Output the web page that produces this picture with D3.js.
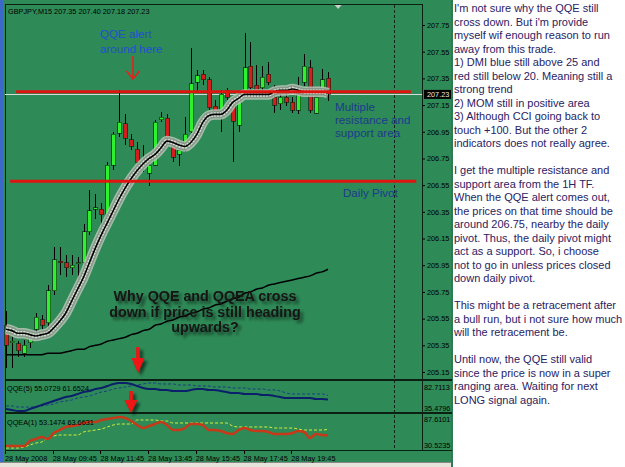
<!DOCTYPE html>
<html><head><meta charset="utf-8">
<script src="https://cdn.jsdelivr.net/npm/d3@7"></script>
<style>
html,body{margin:0;padding:0;background:#fff;}
svg{display:block;}
</style></head>
<body>
<svg id="c" width="625" height="467"></svg>
<script>
// ---------------- DATA ----------------
const titleText = "GBPJPY,M15  207.35 207.40 207.18 207.23";
const openP  = [205.50,205.37,205.36,205.29,205.37,205.47,205.54,205.52,205.76,205.98,
                205.97,205.93,205.96,205.97,206.20,206.37,206.37,206.33,206.70,206.94,
                207.01,206.89,206.82,206.71,206.64,206.70,207.04,207.05,206.87,206.78,
                206.81,206.95,207.32,207.38,207.34,207.14,207.11,207.26,207.15,207.00,
                207.21,207.44,207.30,207.28,207.38,207.21,207.16,207.21,207.17,207.11,
                207.32,207.43,207.09,207.26,207.35];
const highP  = [205.61,205.41,205.38,205.39,205.44,205.59,205.58,205.80,206.09,206.09,
                206.03,206.03,206.01,206.26,206.51,206.48,206.42,206.72,206.95,207.26,
                207.08,206.93,206.87,206.85,206.78,207.04,207.10,207.08,206.90,206.85,
                207.06,207.58,207.41,207.41,207.36,207.19,207.26,207.28,207.20,207.23,
                207.69,207.62,207.45,207.44,207.47,207.30,207.24,207.26,207.21,207.36,
                207.53,207.49,207.24,207.42,207.40];
const lowP   = [205.18,205.18,205.26,205.26,205.33,205.43,205.45,205.48,205.73,205.88,
                205.86,205.88,205.80,205.95,206.18,206.30,206.25,206.24,206.66,206.91,
                206.85,206.81,206.70,206.65,206.54,206.69,207.02,206.85,206.72,206.69,
                206.80,206.94,207.24,207.30,207.11,207.09,206.95,207.19,206.72,206.95,
                207.20,207.26,207.24,207.26,207.30,207.09,207.11,207.14,207.09,207.08,
                207.29,207.09,207.08,207.23,207.18];
const closeP = [205.35,205.38,205.31,205.35,205.41,205.56,205.50,205.76,205.99,205.97,
                205.93,205.95,205.97,206.20,206.36,206.38,206.33,206.70,206.93,207.02,
                206.90,206.84,206.72,206.73,206.70,207.02,207.06,206.89,206.76,206.81,
                206.93,207.31,207.37,207.34,207.13,207.10,207.23,207.21,207.03,207.19,
                207.43,207.28,207.26,207.36,207.32,207.15,207.21,207.17,207.11,207.26,
                207.44,207.11,207.21,207.34,207.23];
const fastMA = [205.47,205.46,205.44,205.44,205.43,205.42,205.43,205.44,205.48,205.53,
                205.59,205.68,205.77,205.86,205.97,206.08,206.18,206.27,206.36,206.45,
                206.53,206.60,206.66,206.71,206.75,206.78,206.83,206.88,206.87,206.85,
                206.84,206.87,206.93,207.02,207.07,207.08,207.08,207.11,207.17,207.20,
                207.23,207.23,207.23,207.23,207.23,207.25,207.26,207.26,207.27,207.26,
                207.25,207.25,207.25,207.25,207.24];
const slowMA = [205.28,205.28,205.28,205.28,205.28,205.28,205.28,205.29,205.29,205.29,
                205.30,205.31,205.32,205.32,205.34,205.35,205.36,205.38,205.39,205.40,
                205.41,205.43,205.44,205.46,205.47,205.50,205.51,205.53,205.54,205.56,
                205.57,205.59,205.60,205.62,205.63,205.65,205.66,205.68,205.70,205.71,
                205.74,205.75,205.77,205.78,205.80,205.81,205.82,205.83,205.84,205.85,
                205.86,205.87,205.89,205.90,205.92];
const qqeMain = [38.9,37.2,35.5,35.5,38.9,42.2,45.6,49.0,52.4,55.7,
                 59.1,60.8,64.2,67.5,69.2,72.6,74.3,77.7,81.0,82.7,
                 82.7,81.0,77.7,74.3,72.6,72.6,70.9,70.9,69.2,69.2,
                 69.2,70.9,72.6,72.6,70.9,70.9,69.2,67.5,65.8,65.8,
                 64.2,64.2,64.2,62.5,62.5,60.8,59.1,57.4,57.4,57.4,
                 57.4,57.4,55.7,55.7,55.07];
const qqeSignal = [44.0,44.0,42.2,42.2,42.2,42.2,44.0,45.6,47.3,50.7,
                   52.4,54.0,57.4,59.1,60.8,64.2,67.5,69.2,72.6,74.3,
                   76.0,77.7,79.3,81.0,82.7,82.7,81.0,81.0,81.0,79.3,
                   79.3,79.3,77.7,77.7,77.7,76.0,76.0,76.0,74.3,74.3,
                   74.3,72.6,72.6,72.6,70.9,70.9,69.2,65.8,64.2,64.2,
                   64.2,64.2,64.2,64.2,61.65];
const qqeaMain = [34.1,34.1,34.1,34.1,43.0,46.6,50.1,46.6,57.3,62.6,
                  68.0,69.8,71.6,75.1,76.9,76.9,80.5,82.3,84.0,85.8,
                  84.0,78.7,71.6,66.2,69.8,73.3,76.9,71.6,62.6,62.6,
                  66.2,73.3,73.3,71.6,62.6,62.6,60.9,57.3,55.5,62.6,
                  66.2,62.6,60.9,60.9,59.1,55.5,55.5,55.5,57.3,60.9,
                  59.1,48.4,55.5,53.7,53.15];
const qqeaSignal = [30.5,30.5,30.5,32.3,35.9,39.4,41.2,48.4,51.9,53.7,
                    53.7,53.7,53.7,59.1,60.9,62.6,64.4,68.0,71.6,73.3,
                    73.3,73.3,80.5,80.5,80.5,80.5,78.7,78.7,75.1,75.1,
                    75.1,75.1,75.1,75.1,75.1,75.1,75.1,75.1,69.8,68.0,
                    68.0,68.0,68.0,68.0,68.0,66.2,66.2,66.2,66.2,64.4,
                    62.6,62.6,62.6,62.6,63.66];
const priceTicks = [207.75,207.55,207.35,207.15,206.95,206.75,206.55,206.35,206.15,205.95,205.75,205.55,205.35,205.15];
const lastPrice = 207.23;
const resistanceLevel = 207.25, pivotLevel = 206.58;
const xLabels = ["28 May 2008","28 May 09:45","28 May 11:45","28 May 13:45","28 May 15:45","28 May 17:45","28 May 19:45"];
const xLabelBars = [0,8,16,24,32,40,48];
const qqeLegend = "QQE(5) 55.0729 61.6524";
const qqeaLegend = "QQEA(1) 53.1474 63.6631";
const qqeRange = [35.4796, 82.7113];
const qqeaRange = [30.5235, 87.6101];
const noteLines = [
"I'm not sure why the QQE still",
"cross down. But i'm provide",
"myself wif enough reason to run",
"away from this trade.",
"1) DMI blue still above 25 and",
"red still below 20. Meaning still a",
"strong trend",
"2) MOM still in positive area",
"3) Although CCI going back to",
"touch +100. But the other 2",
"indicators does not really agree.",
"",
"I get the multiple resistance and",
"support area from the 1H TF.",
"When the QQE alert comes out,",
"the prices on that time should be",
"around 206.75, nearby the daily",
"pivot. Thus, the daily pivot might",
"act as a support. So, i choose",
"not to go in unless prices closed",
"down daily pivot.",
"",
"This might be a retracement after",
"a bull run, but i not sure how much",
"will the retracement be.",
"",
"Until now, the QQE still valid",
"since the price is now in a super",
"ranging area. Waiting for next",
"LONG signal again."
];

// ---------------- DRAW ----------------
const FONT = "'Liberation Sans', Arial, sans-serif";
const svg = d3.select("#c");
const W = 625, H = 467;
const GREEN = "#2e8a57";

const defs = svg.append("defs");
const f = defs.append("filter").attr("id","sh").attr("x","-20%").attr("y","-40%").attr("width","150%").attr("height","200%");
f.append("feGaussianBlur").attr("in","SourceAlpha").attr("stdDeviation",1.6).attr("result","bl");
f.append("feOffset").attr("in","bl").attr("dx",2.5).attr("dy",2.5).attr("result","of");
f.append("feComponentTransfer").attr("in","of").attr("result","sd").append("feFuncA").attr("type","linear").attr("slope",0.55);
const fm = f.append("feMerge"); fm.append("feMergeNode").attr("in","sd"); fm.append("feMergeNode").attr("in","SourceGraphic");

svg.append("rect").attr("width",W).attr("height",H).attr("fill","#fff");
svg.append("rect").attr("x",0).attr("y",0).attr("width",452).attr("height",462).attr("fill",GREEN);
svg.append("rect").attr("x",0).attr("y",0).attr("width",3).attr("height",462).attr("fill","#3b68c9");
svg.append("rect").attr("x",0).attr("y",462).attr("width",452).attr("height",5).attr("fill","#e6e3da");
svg.append("line").attr("x1",0).attr("x2",452).attr("y1",462.5).attr("y2",462.5).attr("stroke","#888");
svg.append("rect").attr("x",451).attr("y",0).attr("width",2).attr("height",467).attr("fill","#2f7a55");

// scales
const x = d3.scaleLinear().domain([0,54]).range([6,328]);
const y = d3.scaleLinear().domain([205.15,207.75]).range([372,25]);
const yQ = d3.scaleLinear().domain(qqeRange).range([411,383]);
const yA = d3.scaleLinear().domain(qqeaRange).range([448,416]);

// frame lines
const frame = svg.append("g").attr("stroke","#0b1f12").attr("shape-rendering","crispEdges");
frame.append("line").attr("x1",5.5).attr("x2",5.5).attr("y1",4).attr("y2",451);
frame.append("line").attr("x1",5).attr("x2",422).attr("y1",4.5).attr("y2",4.5);
frame.append("line").attr("x1",422.5).attr("x2",422.5).attr("y1",4).attr("y2",451);
frame.append("rect").attr("x",5).attr("y",379).attr("width",447).attr("height",2).attr("fill","#0b1f12").attr("stroke","none");
frame.append("rect").attr("x",5).attr("y",412).attr("width",447).attr("height",2).attr("fill","#0b1f12").attr("stroke","none");
frame.append("line").attr("x1",5).attr("x2",452).attr("y1",450.5).attr("y2",450.5);

// vertical dashed line (chart shift)
svg.append("line").attr("x1",Math.round(x(65.1))+0.5).attr("x2",Math.round(x(65.1))+0.5)
  .attr("y1",5).attr("y2",450).attr("stroke","#10261a").attr("stroke-dasharray","3,2");
// shift triangle
const tx = x(55.7);
svg.append("path").attr("d",`M${tx-3.5},5 L${tx+3.5},5 L${tx},9 Z`).attr("fill","#c8d0c8");

// title
svg.append("text").attr("x",8).attr("y",14).attr("font-family",FONT).attr("font-size",7.3).attr("fill","#000").text(titleText);

// price axis
const ax = svg.append("g").attr("transform","translate(422,0)")
  .call(d3.axisRight(y).tickValues(priceTicks).tickSize(3).tickFormat(d3.format(".2f")));
ax.select(".domain").remove();
ax.selectAll("line").attr("stroke","#000");
ax.selectAll("text").attr("x",5).attr("font-family",FONT).attr("font-size",7.3).attr("fill","#000");

// slow MA
const lineGen = sc => d3.line().x((d,i)=>x(i)).y(d=>sc(d)).curve(d3.curveMonotoneX);
svg.append("path").datum(slowMA).attr("d",lineGen(y)).attr("fill","none").attr("stroke","#000").attr("stroke-width",1.5);

// current price line
svg.append("line").attr("x1",5).attr("x2",422).attr("y1",Math.round(y(lastPrice))+0.5).attr("y2",Math.round(y(lastPrice))+0.5)
  .attr("stroke","#d8dcd8").attr("stroke-width",1);

// candles
const bars = openP.map((o,i)=>({i,o,h:highP[i],l:lowP[i],c:closeP[i]}));
const cg = svg.append("g").attr("shape-rendering","crispEdges");
cg.selectAll("line.w").data(bars).join("line")
  .attr("x1",d=>Math.round(x(d.i))+0.5).attr("x2",d=>Math.round(x(d.i))+0.5)
  .attr("y1",d=>y(d.h)).attr("y2",d=>y(d.l)).attr("stroke","#000").attr("stroke-width",1);
cg.selectAll("rect.b").data(bars).join("rect")
  .attr("x",d=>Math.round(x(d.i))-1.5)
  .attr("y",d=>y(Math.max(d.o,d.c)))
  .attr("width",4)
  .attr("height",d=>Math.max(1,Math.abs(y(d.o)-y(d.c))))
  .attr("fill",d=>d.c>=d.o?"#2ef02e":"#d41e1e")
  .attr("stroke","#0a200a").attr("stroke-width",0.6);

// fast MA ribbon
const fp = lineGen(y)(fastMA);
svg.append("path").attr("d",fp).attr("fill","none").attr("stroke","#b9c5b9").attr("stroke-width",10.5).attr("stroke-opacity",0.85);
svg.append("path").attr("d",fp).attr("fill","none").attr("stroke","#889888").attr("stroke-width",7.5);
svg.append("path").attr("d",fp).attr("fill","none").attr("stroke","#d9e0d9").attr("stroke-width",4.5).attr("stroke-dasharray","2,1");
svg.append("path").attr("d",fp).attr("fill","none").attr("stroke","#000").attr("stroke-width",1.6);

// horizontal red lines (user trend lines)
svg.append("line").attr("x1",x(1.7)).attr("x2",x(67.9)).attr("y1",y(resistanceLevel)).attr("y2",y(resistanceLevel))
  .attr("stroke","#e0140f").attr("stroke-width",3);
svg.append("line").attr("x1",x(0.7)).attr("x2",x(68.8)).attr("y1",y(pivotLevel)).attr("y2",y(pivotLevel))
  .attr("stroke","#e0140f").attr("stroke-width",3);

// last price label
const lpY = y(lastPrice);
svg.append("rect").attr("x",424).attr("y",lpY-4.5).attr("width",27).attr("height",9).attr("fill","#000");
svg.append("text").attr("x",427).attr("y",lpY+2.6).attr("font-family",FONT).attr("font-size",7.3).attr("fill","#e8e8e8").text(d3.format(".2f")(lastPrice));

// annotations main
svg.append("text").attr("font-family",FONT).attr("font-size",11.6).attr("fill","#2150cf")
  .selectAll("tspan").data(["QQE alert","around here"]).join("tspan")
  .attr("x",100).attr("y",(d,i)=>38+i*14.5).text(d=>d);
// thin arrow
const ag = svg.append("g").attr("stroke","#e8201c").attr("stroke-width",1.6).attr("fill","none");
ag.append("line").attr("x1",133).attr("x2",133).attr("y1",56).attr("y2",79);
ag.append("path").attr("d","M126.5,71 L133,79 L139.5,71");

svg.append("text").attr("font-family",FONT).attr("font-size",11.6).attr("fill","#1d3b8c")
  .selectAll("tspan").data(["Multiple","resistance and","support area"]).join("tspan")
  .attr("x",335).attr("y",(d,i)=>111+i*13.2).text(d=>d);
svg.append("text").attr("x",343).attr("y",197).attr("font-family",FONT).attr("font-size",11.6).attr("fill","#1d3b8c").text("Daily Pivot");

svg.append("text").attr("font-family",FONT).attr("font-size",14.3).attr("font-weight","bold").attr("fill","#151515")
  .attr("text-anchor","middle").attr("filter","url(#sh)")
  .selectAll("tspan").data(["Why QQE and QQEA cross","down if price is still heading","upwards?"]).join("tspan")
  .attr("x",205).attr("y",(d,i)=>301+i*15.6).text(d=>d);

// thick arrows
function bigArrow(cx, y0, yh, y1, hw){
  svg.append("path").attr("d",`M${cx-1.8},${y0} L${cx+1.8},${y0} L${cx+1.8},${yh} L${cx+hw},${yh} L${cx},${y1} L${cx-hw},${yh} L${cx-1.8},${yh} Z`)
    .attr("fill","#ee1212").attr("filter","url(#sh)");
}
bigArrow(138, 347, 358, 373, 6.5);
bigArrow(131, 391, 400, 413, 6.5);

// QQE panel
svg.append("path").datum(qqeSignal).attr("d",lineGen(yQ)).attr("fill","none").attr("stroke","#1a3f86").attr("stroke-width",1).attr("stroke-dasharray","3,2");
svg.append("path").datum(qqeMain).attr("d",lineGen(yQ)).attr("fill","none").attr("stroke","#0b1f6b").attr("stroke-width",2);
svg.append("text").attr("x",7).attr("y",391).attr("font-family",FONT).attr("font-size",7.3).attr("fill","#000").text(qqeLegend);
svg.append("text").attr("x",424).attr("y",yQ(qqeRange[1])+6.5).attr("font-family",FONT).attr("font-size",7.3).attr("fill","#000").text(qqeRange[1].toFixed(4));
svg.append("text").attr("x",424).attr("y",yQ(qqeRange[0])-0.5).attr("font-family",FONT).attr("font-size",7.3).attr("fill","#000").text(qqeRange[0].toFixed(4));

// QQEA panel
svg.append("path").datum(qqeaSignal).attr("d",lineGen(yA)).attr("fill","none").attr("stroke","#d6ee3c").attr("stroke-width",1).attr("stroke-dasharray","3,2");
svg.append("path").datum(qqeaMain).attr("d",lineGen(yA)).attr("fill","none").attr("stroke","#c8391a").attr("stroke-width",2.5);
svg.append("text").attr("x",7).attr("y",425).attr("font-family",FONT).attr("font-size",7.3).attr("fill","#000").text(qqeaLegend);
svg.append("text").attr("x",424).attr("y",yA(qqeaRange[1])+5.5).attr("font-family",FONT).attr("font-size",7.3).attr("fill","#000").text(qqeaRange[1].toFixed(4));
svg.append("text").attr("x",424).attr("y",yA(qqeaRange[0])-0.5).attr("font-family",FONT).attr("font-size",7.3).attr("fill","#000").text(qqeaRange[0].toFixed(4));

// x axis
const xg = svg.append("g");
xg.selectAll("line").data(xLabelBars).join("line")
  .attr("x1",d=>Math.round(x(d))-0.5).attr("x2",d=>Math.round(x(d))-0.5).attr("y1",451).attr("y2",454)
  .attr("stroke","#000").attr("shape-rendering","crispEdges");
xg.selectAll("text").data(xLabels).join("text")
  .attr("x",(d,i)=>x(xLabelBars[i])-1).attr("y",461).attr("font-family",FONT).attr("font-size",7.3).attr("fill","#000").text(d=>d);

// right notes
svg.append("g").selectAll("text").data(noteLines).join("text")
  .attr("x",454).attr("y",(d,i)=>12+i*13.5).attr("font-family",FONT).attr("font-size",11).attr("fill","#2a2263").text(d=>d);
</script>
</body></html>
